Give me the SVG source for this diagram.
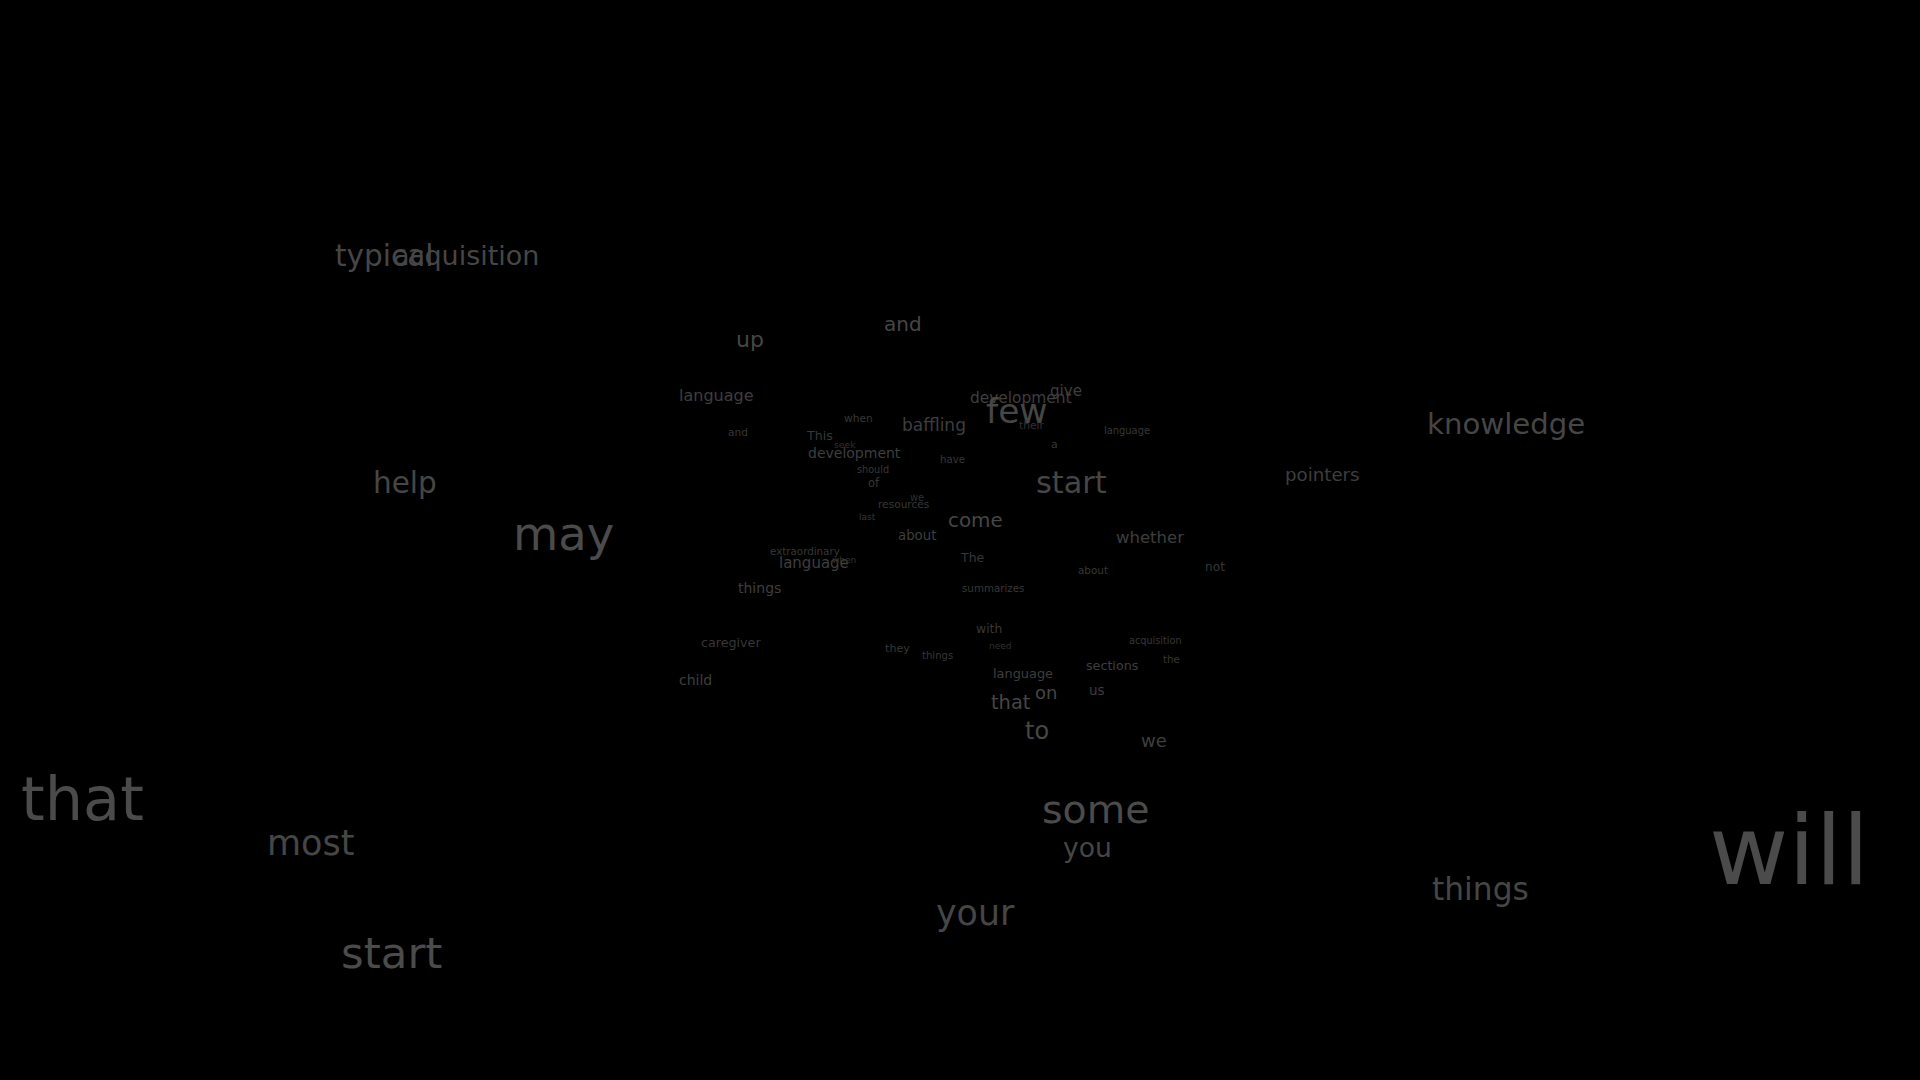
<svg xmlns="http://www.w3.org/2000/svg" width="1920" height="1080" viewBox="0 0 1920 1080">
<style>
text{font-family:"DejaVu Sans","Liberation Sans",sans-serif}
.c1{fill:#4b4b4b}.c2{fill:#464646}.c3{fill:#3e3e3e}.c4{fill:#373737}.c5{fill:#303030}
</style>
<rect width="1920" height="1080" fill="#000000"/>
<g id="words">
<text class="c2" x="335" y="266" font-size="29.5">typical</text>
<text class="c2" x="393" y="265" font-size="27">acquisition</text>
<text class="c2" x="884" y="331" font-size="20">and</text>
<text class="c2" x="736" y="347" font-size="22">up</text>
<text class="c3" x="679" y="401" font-size="16">language</text>
<text class="c4" x="728" y="436" font-size="10.6">and</text>
<text class="c4" x="844" y="422" font-size="10.7">when</text>
<text class="c3" x="902" y="431" font-size="17">baffling</text>
<text class="c4" x="807" y="440" font-size="12.7">This</text>
<text class="c5" x="834" y="448" font-size="9.3">seek</text>
<text class="c3" x="808" y="458" font-size="14">development</text>
<text class="c4" x="857" y="473" font-size="9.7">should</text>
<text class="c4" x="940" y="463" font-size="10.2">have</text>
<text class="c4" x="868" y="487" font-size="11.4">of</text>
<text class="c5" x="910" y="501" font-size="9.8">we</text>
<text class="c4" x="878" y="508" font-size="10.6">resources</text>
<text class="c4" x="859" y="520" font-size="9.1">last</text>
<text class="c3" x="898" y="540" font-size="13.3">about</text>
<text class="c2" x="373" y="493" font-size="29.5">help</text>
<text class="c1" x="513" y="550" font-size="46.5">may</text>
<text class="c4" x="770" y="555" font-size="10.3">extraordinary</text>
<text class="c3" x="779" y="568" font-size="15">language</text>
<text class="c5" x="832" y="563" font-size="9">when</text>
<text class="c3" x="738" y="593" font-size="14">things</text>
<text class="c4" x="701" y="647" font-size="12.7">caregiver</text>
<text class="c3" x="679" y="685" font-size="14">child</text>
<text class="c4" x="885" y="652" font-size="11.2">they</text>
<text class="c4" x="922" y="659" font-size="10.1">things</text>
<text class="c3" x="970" y="403" font-size="15.4">development</text>
<text class="c3" x="1050" y="396" font-size="15.1">give</text>
<text class="c2" x="986" y="423" font-size="34.5">few</text>
<text class="c5" x="1019" y="429" font-size="10.7">their</text>
<text class="c4" x="1104" y="434" font-size="9.9">language</text>
<text class="c4" x="1051" y="448" font-size="11">a</text>
<text class="c2" x="1036" y="493" font-size="30.3">start</text>
<text class="c2" x="948" y="527" font-size="19.9">come</text>
<text class="c3" x="1116" y="543" font-size="16.5">whether</text>
<text class="c4" x="961" y="562" font-size="12.5">The</text>
<text class="c4" x="1078" y="574" font-size="10.4">about</text>
<text class="c4" x="1205" y="571" font-size="12.2">not</text>
<text class="c4" x="962" y="592" font-size="10.3">summarizes</text>
<text class="c4" x="976" y="633" font-size="12.4">with</text>
<text class="c5" x="989" y="649" font-size="9">need</text>
<text class="c4" x="1129" y="644" font-size="9.7">acquisition</text>
<text class="c4" x="1163" y="663" font-size="10.2">the</text>
<text class="c3" x="1086" y="670" font-size="12.7">sections</text>
<text class="c3" x="993" y="678" font-size="12.9">language</text>
<text class="c3" x="1089" y="695" font-size="13.5">us</text>
<text class="c2" x="1035" y="699" font-size="17.9">on</text>
<text class="c2" x="991" y="709" font-size="19.4">that</text>
<text class="c2" x="1025" y="739" font-size="24">to</text>
<text class="c3" x="1141" y="747" font-size="18">we</text>
<text class="c2" x="1427" y="434" font-size="29.2">knowledge</text>
<text class="c3" x="1285" y="481" font-size="18.2">pointers</text>
<text class="c1" x="1042" y="823" font-size="39.5">some</text>
<text class="c2" x="1063" y="857" font-size="26.6">you</text>
<text class="c2" x="1432" y="900" font-size="31.3">things</text>
<text class="c2" x="936" y="925" font-size="34.8">your</text>
<text class="c2" x="267" y="855" font-size="35">most</text>
<text class="c1" x="341" y="968" font-size="43.5">start</text>
<text class="c1" x="21" y="820" font-size="60.5">that</text>
<text class="c1" x="1709" y="884" font-size="97">will</text>
</g>
</svg>
